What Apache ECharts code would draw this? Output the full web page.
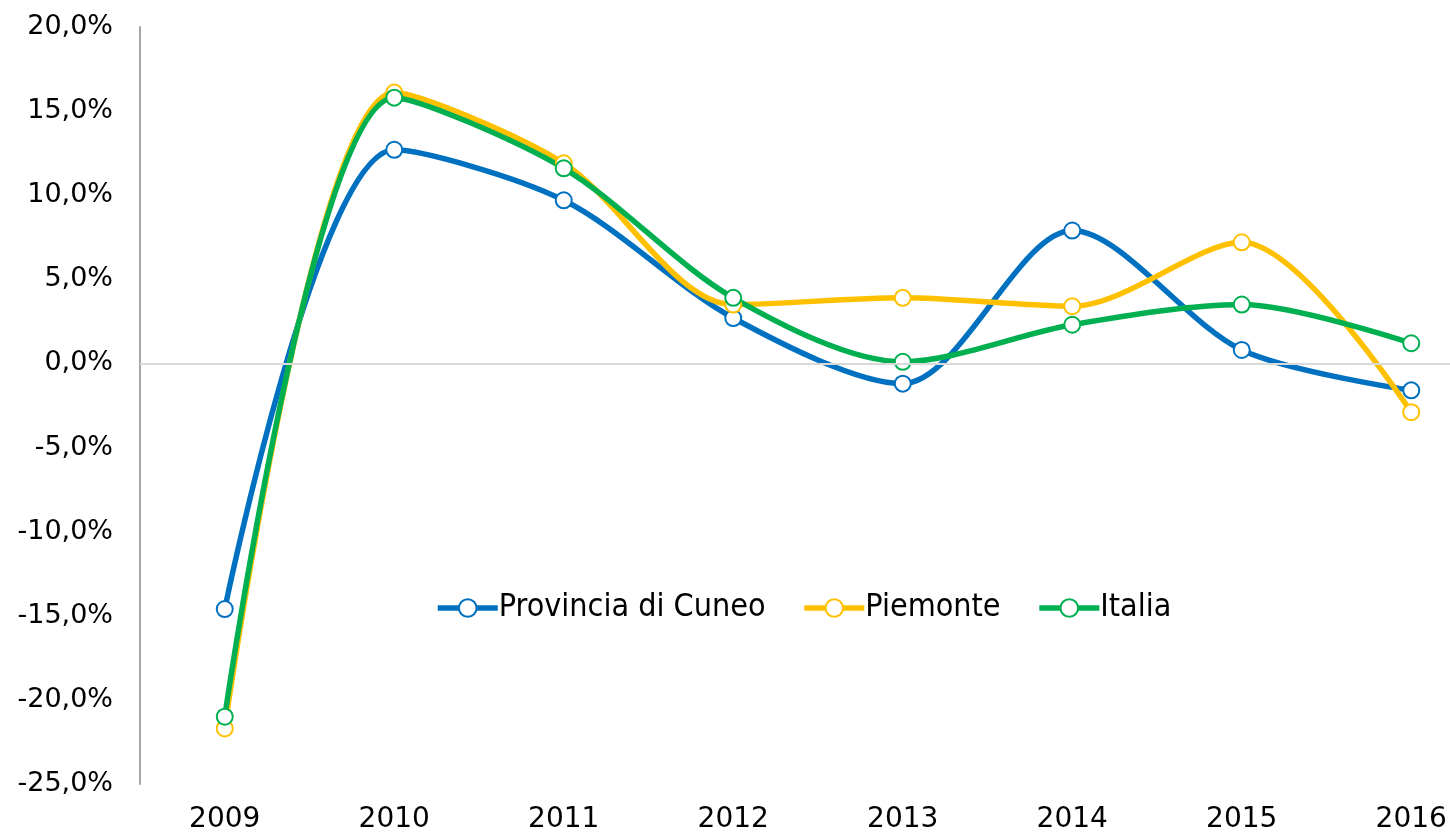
<!DOCTYPE html>
<html>
<head>
<meta charset="utf-8">
<script src="https://cdn.jsdelivr.net/npm/echarts@6/dist/echarts.min.js"></script>
<style>
  html, body { margin: 0; padding: 0; background: #fff; overflow: hidden; }
  #main { width: 1496px; height: 834px; }
</style>
</head>
<body>
<div id="main"></div>
<script>
var years = ['2009', '2010', '2011', '2012', '2013', '2014', '2015', '2016'];
var cuneo = [-14.6, 12.7, 9.7, 2.7, -1.2, 7.9, 0.8, -1.6];
var piemonte = [-21.7, 16.1, 11.9, 3.5, 3.9, 3.4, 7.2, -2.9];
var italia = [-21.0, 15.8, 11.6, 3.9, 0.1, 2.3, 3.5, 1.2];

// plot area runs past the right edge of the window, like the original
var myChart = echarts.init(document.getElementById('main'));

function makeSeries(name, data, color) {
    return {
        name: name,
        type: 'line',
        data: data,
        smooth: 0.3,
        symbol: 'circle',
        symbolSize: 16,
        showAllSymbol: true,
        lineStyle: { color: color, width: 5.5 },
        itemStyle: { color: '#fff', borderColor: color, borderWidth: 2 }
    };
}

var option = {
    animation: false,
    grid: { left: 140, right: 0, top: 27, bottom: 49, containLabel: false },
    legend: {
        top: 587,
        left: 430,
        itemWidth: 60,
        itemHeight: 22,
        itemGap: 36,
        lineStyle: { width: 5.5 },
        textStyle: { fontFamily: 'DejaVu Sans Condensed', fontSize: 32, color: '#000', padding: [0, 0, 0, -4] },
        data: ['Provincia di Cuneo', 'Piemonte', 'Italia']
    },
    xAxis: {
        type: 'category',
        data: years,
        boundaryGap: true,
        position: 'bottom',
        axisLine: { onZero: false, show: false },
        axisTick: { show: false },
        axisLabel: { fontFamily: 'DejaVu Sans', fontSize: 28, color: '#000', margin: 22 }
    },
    yAxis: {
        type: 'value',
        min: -25,
        max: 20,
        interval: 5,
        axisLine: { show: true, lineStyle: { color: '#a6a6a6', width: 2 } },
        axisTick: { show: false },
        splitLine: { show: false },
        axisLabel: {
            fontFamily: 'DejaVu Sans',
            fontSize: 27,
            color: '#000',
            margin: 27,
            formatter: function (v) { return v.toFixed(1).replace('.', ',') + '%'; }
        }
    },
    series: [
        makeSeries('Provincia di Cuneo', cuneo, '#0070c0'),
        makeSeries('Piemonte', piemonte, '#ffc000'),
        makeSeries('Italia', italia, '#00b050')
    ]
};
// horizontal zero line
option.series[0].markLine = {
    silent: true,
    symbol: 'none',
    label: { show: false },
    lineStyle: { color: '#d9d9d9', width: 2, type: 'solid' },
    data: [{ yAxis: 0 }]
};
myChart.setOption(option);
</script>
</body>
</html>
